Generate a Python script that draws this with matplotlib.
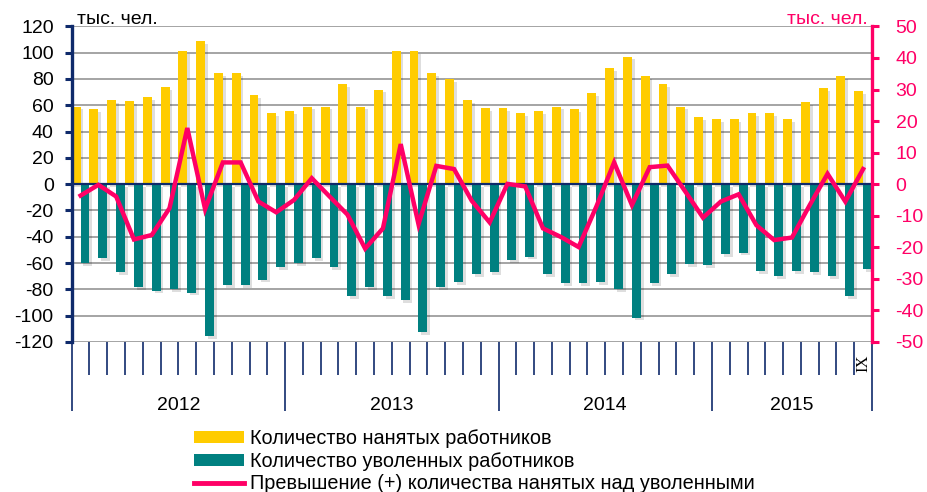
import numpy as np
import matplotlib
matplotlib.use("Agg")
import matplotlib.pyplot as plt
import matplotlib.patheffects as pe
import matplotlib.transforms as mtransforms
from matplotlib.patches import Patch
from matplotlib.lines import Line2D
from matplotlib import font_manager

# ---------------- data ----------------
years = ["2012", "2013", "2014", "2015"]
months_per_year = [12, 12, 12, 9]
last_month_label = "IX"

hired = [59, 57, 64, 63, 66, 74, 101, 109, 84.5, 84.5, 68, 54,
         55.5, 59, 59, 76, 59, 72, 101, 101, 84.5, 80, 64, 58,
         58, 54, 55.5, 59, 57, 69.5, 88.5, 97, 82, 76, 59, 51,
         49.5, 49.5, 54, 54, 49.5, 62.5, 73, 82, 70.5]

fired = [-60, -56.5, -67, -78.5, -81, -80, -82.5, -115.5, -77, -77, -72.5, -63,
         -60, -56.5, -63, -85, -78.5, -85, -88, -112.5, -78.5, -74.5, -68.5, -67,
         -58, -55, -68.5, -75.5, -75.5, -74.5, -80, -101.5, -75.5, -68.5, -60.5, -61.5,
         -53, -52, -66, -70, -66, -67, -70, -85, -64.5]

balance = [-3.6, -0.2, -3.9, -17.5, -16.1, -7.6, 17.8, -7.9, 6.9, 6.9, -5.5, -8.9,
           -5.0, 1.9, -3.9, -9.6, -20.4, -14.0, 12.7, -12.7, 5.8, 4.8, -5.3, -12.1,
           0.1, -0.7, -14.0, -16.7, -19.9, -7.1, 6.9, -6.6, 5.4, 5.9, -2.3, -10.6,
           -5.5, -3.2, -13.0, -17.7, -16.9, -6.6, 3.3, -5.5, 4.8]

legend_labels = ["Количество нанятых работников",
                 "Количество уволенных работников",
                 "Превышение (+) количества нанятых над уволенными"]
unit_label = "тыс. чел."

# ---------------- style ----------------
YELLOW = "#FFCC00"
TEAL = "#008080"
PINK = "#FF0066"
NAVY = "#0F2A6B"
GRID = "#8C8C8C"

names = {f.name for f in font_manager.fontManager.ttflist}
TICK_FONT = "Liberation Sans" if "Liberation Sans" in names else "DejaVu Sans"
if "Liberation Sans Narrow" in names:
    LEG_FONT, LEG_SIZE = "Liberation Sans Narrow", 16
else:
    LEG_FONT, LEG_SIZE = TICK_FONT, 14.3

plt.rcParams["font.family"] = [TICK_FONT, "DejaVu Sans"]
plt.rcParams["axes.unicode_minus"] = False

W, H = 927, 492
fig = plt.figure(figsize=(W / 100, H / 100), dpi=100)
L, R, T, B = 71.7, 872.0, 26.4, 342.0
ax = fig.add_axes([L / W, 1 - B / H, (R - L) / W, (B - T) / H])

n = len(hired)
x = np.arange(n)
shadow = [pe.SimplePatchShadow(offset=(2, -2), shadow_rgbFace="#000000", alpha=0.13), pe.Normal()]
ax.bar(x + 0.25, hired, width=0.5, color=YELLOW, zorder=2, path_effects=shadow)
ax.bar(x + 0.75, fired, width=0.5, color=TEAL, zorder=2, path_effects=shadow)

ax.set_xlim(0, n)
ax.set_ylim(-120, 120)
ax.set_yticks(np.arange(-120, 121, 20))
ax.yaxis.grid(True, color=GRID, linewidth=1.1)
ax.set_axisbelow(True)
ax.tick_params(axis="y", direction="out", length=5, width=2.2, color=NAVY,
               labelsize=14, pad=8, labelcolor="black")
for s in ["top", "right"]:
    ax.spines[s].set_visible(False)
ax.spines["left"].set_color(NAVY)
ax.spines["left"].set_linewidth(2.4)
ax.spines["bottom"].set_position(("data", 0))
ax.spines["bottom"].set_color(NAVY)
ax.spines["bottom"].set_linewidth(1.6)
ax.spines["bottom"].set_zorder(3)
ax.set_xticks(np.arange(0, n + 1))
ax.tick_params(axis="x", direction="out", length=4, width=1.2, color=NAVY, labelbottom=False)

# month / year separators below plot
bounds = np.cumsum([0] + months_per_year)
month_ticks = [t for t in range(n + 1) if t not in bounds]
sec = ax.secondary_xaxis(0)
sec.set_xticks(month_ticks)
sec.tick_params(direction="out", length=24, width=1.2, color=NAVY, labelbottom=False)
sec.spines["bottom"].set_visible(False)
sec2 = ax.secondary_xaxis(0)
sec2.set_xticks(list(bounds))
sec2.tick_params(direction="out", length=50, width=1.2, color=NAVY, labelbottom=False)
sec2.spines["bottom"].set_visible(False)

trans = mtransforms.blended_transform_factory(ax.transData, ax.transAxes)
for yr, a, b in zip(years, bounds[:-1], bounds[1:]):
    ax.text((a + b) / 2, -0.2, yr, transform=trans, ha="center", va="center",
            fontsize=14, family=[LEG_FONT, "DejaVu Sans"], color="black")
ax.text(n - 0.5, -0.066, last_month_label, transform=trans, ha="center", va="center",
        rotation=90, fontsize=12, family=["Liberation Serif", "DejaVu Serif"])

# right axis
ax2 = ax.twinx()
ax2.plot(x + 0.5, balance, color=PINK, linewidth=3.2, solid_joinstyle="miter", zorder=4)
ax2.set_ylim(-50, 50)
ax2.set_yticks(np.arange(-50, 51, 10))
ax2.tick_params(axis="y", direction="out", length=5, width=2.2, color=PINK,
                labelsize=14, pad=12, labelcolor=PINK)
for s in ["top", "left", "bottom"]:
    ax2.spines[s].set_visible(False)
ax2.spines["right"].set_color(PINK)
ax2.spines["right"].set_linewidth(2.4)
ax2.set_xticks([])

fig.text(77 / W, 1 - 19 / H, unit_label, ha="left", va="center", fontsize=14, color="black")
fig.text(868 / W, 1 - 20 / H, unit_label, ha="right", va="center", fontsize=14, color=PINK)

handles = [Patch(facecolor=YELLOW, edgecolor="none"),
           Patch(facecolor=TEAL, edgecolor="none"),
           Line2D([], [], color=PINK, linewidth=3.5)]
fig.legend(handles, legend_labels, loc="upper left",
           bbox_to_anchor=(194 / W, 1 - 429 / H), frameon=False,
           prop={"family": [LEG_FONT, "DejaVu Sans"], "size": LEG_SIZE},
           handlelength=2.5, handleheight=0.55, handletextpad=0.3,
           labelspacing=0.18, borderpad=0, borderaxespad=0)

fig.savefig("out.png", dpi=100)
